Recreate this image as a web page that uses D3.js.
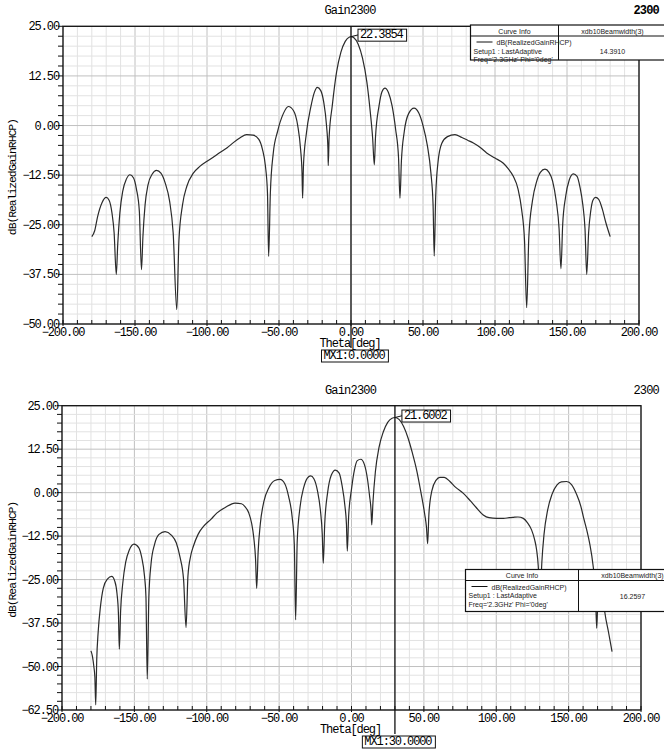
<!DOCTYPE html>
<html>
<head>
<meta charset="utf-8">
<script src="https://cdn.jsdelivr.net/npm/d3@7"></script>
<style>
  html, body { margin: 0; padding: 0; background: #fff; }
  svg text { font-family: "Liberation Mono", "DejaVu Sans Mono", monospace; fill: #000; }
  svg .legend text { font-family: "Liberation Sans", Arial, sans-serif; fill: #222; }
</style>
</head>
<body>
<div id="chart"></div>
<script>
// ── 数据：theta(deg), dB(RealizedGainRHCP) ─────────────────────────────────
const topCurve = [
  [-180, -28.0], [-178, -26.5], [-176, -23.0], [-173, -19.5], [-170, -18.1], [-168, -18.8],
  [-166, -22.0], [-164.5, -27.0], [-163, -37.5], [-162, -30.0], [-160.5, -22.0], [-158.5, -16.5],
  [-156, -13.5], [-153.5, -12.4], [-151, -13.2], [-149, -16.0], [-147, -21.5], [-145.5, -36.3],
  [-144.5, -28.0], [-143, -20.0], [-141, -15.0], [-138, -12.2], [-135, -11.3], [-132, -12.0],
  [-129, -14.5], [-126, -19.0], [-123.5, -27.0], [-121, -46.4], [-119.5, -29.0], [-117, -20.0],
  [-114, -15.3], [-109.5, -12.0], [-105, -10.3], [-100, -9.0], [-95, -7.8], [-91, -6.8],
  [-86, -5.6], [-81.7, -4.3], [-77, -3.1], [-72.5, -2.3], [-68, -2.4], [-64, -3.5],
  [-61.5, -6.0], [-59.5, -10.0], [-58, -17.0], [-57.2, -33.0], [-56, -17.0], [-54, -7.0],
  [-51, -1.5], [-47, 3.0], [-43.5, 4.8], [-40, 3.8], [-37, 0.0], [-35, -6.0],
  [-34, -12.0], [-33.6, -18.3], [-33, -10.0], [-31, -2.0], [-28, 4.5], [-25.5, 8.3],
  [-23.4, 9.6], [-21, 8.8], [-19, 6.0], [-17, 0.0], [-16, -6.0], [-15.8, -10.1],
  [-15.2, -3.0], [-13, 5.0], [-10, 13.5], [-7, 18.5], [-4, 21.2], [-1, 22.3],
  [0, 22.39], [2, 22.1], [5, 20.5], [8, 17.0], [11, 11.0], [13.5, 3.0],
  [15, -3.0], [16.2, -9.9], [17, -3.0], [19.5, 5.0], [21.5, 8.5], [23.6, 9.4],
  [26, 8.3], [28.5, 5.0], [31, -1.0], [33, -8.0], [34, -18.3], [35, -9.0],
  [37, -1.5], [40, 3.0], [43.8, 4.4], [47, 3.2], [50, 0.0], [53, -5.0],
  [55.5, -12.0], [57, -20.0], [57.8, -32.9], [58.8, -18.0], [60.5, -9.0], [63, -4.5],
  [67, -2.8], [72.2, -2.3], [77, -3.0], [81, -3.7], [85, -4.4], [90, -5.6],
  [94.2, -6.9], [100, -8.2], [105.8, -9.5], [109, -10.8], [112.7, -12.8], [116, -16.0],
  [118.5, -21.2], [120.5, -29.0], [122, -45.9], [123.5, -28.0], [126, -19.0], [129, -14.0],
  [131.5, -11.8], [134.7, -11.0], [137.5, -11.8], [140, -14.0], [142.5, -19.0], [144.5, -26.0],
  [145.8, -36.1], [147, -25.0], [149, -18.0], [151.5, -13.8], [154.4, -12.2], [157, -12.8],
  [159, -15.5], [161, -20.0], [162.5, -26.0], [163.7, -37.5], [165, -27.0], [166.5, -21.5],
  [168, -18.8], [169.9, -18.1], [172, -18.6], [174.5, -21.0], [177, -24.5], [180, -28.0]
];

const bottomCurve = [
  [-180, -45.5], [-179, -47.0], [-178, -50.0], [-177.3, -53.0], [-176.7, -61.0], [-176, -48.0],
  [-175, -40.0], [-173.5, -33.0], [-171.5, -27.5], [-168.5, -24.8], [-165.7, -24.1], [-163.5, -25.5],
  [-162, -29.0], [-161, -35.0], [-160.4, -45.0], [-159.5, -34.0], [-158, -26.0], [-156, -20.0],
  [-153.5, -16.5], [-150.3, -14.8], [-147, -15.8], [-145, -18.5], [-143, -24.0], [-142, -30.0],
  [-141.1, -53.6], [-140, -30.0], [-138.5, -20.5], [-136, -14.8], [-133, -12.0], [-128.8, -11.2],
  [-124.5, -12.2], [-121, -14.5], [-118.5, -18.5], [-116, -25.0], [-114.3, -38.8], [-113, -24.0],
  [-111, -18.0], [-109.3, -15.5], [-106, -12.0], [-102.4, -9.8], [-97, -7.6], [-93.1, -5.9],
  [-87, -4.2], [-80.5, -3.0], [-76, -3.2], [-73.6, -4.0], [-71, -5.8], [-69, -8.8],
  [-67.5, -13.0], [-66.3, -19.0], [-65.5, -27.5], [-64.5, -17.0], [-63, -9.0], [-60.5, -2.5],
  [-57, 1.5], [-53, 3.5], [-49.4, 3.8], [-46, 2.5], [-43.5, -1.0], [-41, -7.0],
  [-39.5, -15.0], [-38.6, -36.6], [-37.5, -14.0], [-35.5, -4.0], [-33, 1.5], [-30.5, 4.2],
  [-28.2, 4.8], [-26, 4.0], [-23.5, 0.5], [-21.5, -5.0], [-20.2, -12.0], [-19.5, -20.3],
  [-18.5, -9.0], [-16.5, 0.0], [-14, 5.0], [-11.2, 6.5], [-8.5, 5.6], [-6.5, 2.0],
  [-4.5, -4.0], [-3.5, -9.0], [-2.9, -16.8], [-2, -7.0], [0, 1.0], [2, 6.5],
  [4, 9.2], [6.4, 9.6], [9, 8.0], [11, 4.0], [12.5, -1.0], [13.5, -5.0],
  [14, -9.3], [14.8, -3.0], [16.5, 6.0], [19, 13.0], [22, 17.5], [25, 20.2],
  [28, 21.4], [30, 21.6], [33, 21.0], [36, 19.0], [39, 15.8], [42, 11.5],
  [45, 6.5], [48, 0.0], [50.5, -6.0], [51.8, -10.0], [52.6, -14.7], [53.5, -6.0],
  [55.5, 0.5], [58.5, 3.6], [61, 4.4], [64.1, 4.4], [68, 3.2], [72, 1.5],
  [77.3, -0.2], [82, -2.3], [86, -4.2], [91, -6.4], [95, -7.2], [100.3, -7.4],
  [105, -7.4], [109, -7.2], [111.8, -7.1], [115, -7.0], [118.7, -7.4], [121.5, -8.6],
  [124.4, -10.7], [126.5, -13.5], [127.9, -16.5], [129, -21.0], [130.2, -32.0], [131.5, -20.0],
  [133, -12.0], [135.5, -5.0], [138.5, -0.5], [142, 2.2], [145, 3.1], [148.6, 3.2],
  [152, 2.3], [155.5, -0.5], [158.5, -4.0], [160.5, -7.5], [162.5, -10.7], [164.5, -14.5],
  [167, -21.3], [168.5, -28.0], [169.4, -39.0], [170.3, -30.0], [172, -27.0], [173.5, -29.0],
  [175, -34.4], [177.5, -40.0], [180, -45.7]
];

const xTicks = [-200, -150, -100, -50, 0, 50, 100, 150, 200];
const topYTicks = [25, 12.5, 0, -12.5, -25, -37.5, -50];
const bottomYTicks = [25, 12.5, 0, -12.5, -25, -37.5, -50, -62.5];

const topMarker = { theta: 0, value: 22.3854, label: 'MX1:0.0000' };
const bottomMarker = { theta: 30, value: 21.6002, label: 'MX1:30.0000' };

const legendHeader = ['Curve Info', 'xdb10Beamwidth(3)'];
const legendLines = ['dB(RealizedGainRHCP)', 'Setup1 : LastAdaptive', "Freq='2.3GHz' Phi='0deg'"];
const topBeamwidth = '14.3910';
const bottomBeamwidth = '16.2597';

// ── 画布 ────────────────────────────────────────────────────────────────────
const svg = d3.select('#chart').append('svg')
    .attr('width', 664)
    .attr('height', 750);

const fmt = d3.format('.2f');
const FS = '12px', LS = '-1.1px';   // 宋体风格的窄等宽数字

// 带边框的文字（先放 rect，再按文字 bbox 调整）
function boxedText(g, xPos, yPos, anchor, txt) {
    const r = g.append('rect').attr('fill', '#fff').attr('stroke', '#111');
    const t = g.append('text').attr('x', xPos).attr('y', yPos)
        .attr('text-anchor', anchor).style('font-size', FS)
        .style('letter-spacing', LS).text(txt);
    const b = t.node().getBBox();
    r.attr('x', b.x - 2).attr('y', b.y + 1.5).attr('width', b.width + 5).attr('height', b.height - 2);
}

function drawPanel(p) {
    const x = d3.scaleLinear().domain([-200, 200]).range([p.left, p.right]);
    const y = d3.scaleLinear().domain([p.yTicks[p.yTicks.length - 1], 25]).range([p.bottom, p.top]);
    const g = svg.append('g');

    // 网格
    const grid = g.append('g');
    grid.selectAll('line.v').data(d3.range(-200, 201, 10)).enter().append('line')
        .attr('x1', d => x(d)).attr('x2', d => x(d))
        .attr('y1', p.top).attr('y2', p.bottom)
        .attr('stroke', d => d % 50 === 0 ? '#c0c0c0' : '#e2e2e2')
        .attr('stroke-width', 1);
    const yMinor = d3.range(y.domain()[0], 25.01, 2.5);
    grid.selectAll('line.h').data(yMinor).enter().append('line')
        .attr('x1', p.left).attr('x2', p.right)
        .attr('y1', d => y(d)).attr('y2', d => y(d))
        .attr('stroke', d => Math.abs(d % 12.5) < 0.01 ? '#c0c0c0' : '#e2e2e2')
        .attr('stroke-width', 1);

    // 边框
    g.append('rect')
        .attr('x', p.left).attr('y', p.top)
        .attr('width', p.right - p.left).attr('height', p.bottom - p.top)
        .attr('fill', 'none').attr('stroke', '#111').attr('stroke-width', 1.3);

    // y 轴刻度
    g.append('g').selectAll('line').data(yMinor).enter().append('line')
        .attr('x1', p.left - 5).attr('x2', p.left)
        .attr('y1', d => y(d)).attr('y2', d => y(d))
        .attr('stroke', '#111');
    g.append('g').selectAll('text').data(p.yTicks).enter().append('text')
        .attr('x', p.left - 4).attr('y', d => y(d) + 4)
        .attr('text-anchor', 'end')
        .style('font-size', FS).style('letter-spacing', LS)
        .text(d => fmt(d));

    // x 轴刻度
    g.append('g').selectAll('line').data(d3.range(-200, 201, 10)).enter().append('line')
        .attr('x1', d => x(d)).attr('x2', d => x(d))
        .attr('y1', p.bottom - 4).attr('y2', d => d % 50 === 0 ? p.bottom + 2 : p.bottom)
        .attr('stroke', '#111');
    g.append('g').selectAll('text').data(xTicks).enter().append('text')
        .attr('x', d => x(d)).attr('y', p.bottom + 12)
        .attr('text-anchor', 'middle')
        .style('font-size', FS).style('letter-spacing', LS)
        .text(d => fmt(d));

    // 标题
    g.append('text').attr('x', (p.left + p.right) / 2 - 1).attr('y', p.top - 12)
        .attr('text-anchor', 'middle').style('font-size', FS).style('letter-spacing', '-0.8px')
        .text('Gain2300');
    g.append('text').attr('x', 659).attr('y', p.top - 12)
        .attr('text-anchor', 'end').style('font-size', FS).style('letter-spacing', '-0.8px')
        .style('font-weight', p.boldTag ? 'bold' : 'normal').text('2300');
    g.append('text')
        .attr('transform', `translate(16,${(p.top + p.bottom) / 2 + 2}) rotate(-90)`)
        .attr('text-anchor', 'middle').style('font-size', '11.5px').style('letter-spacing', '-1.1px')
        .text('dB(RealizedGainRHCP)');
    g.append('text').attr('x', (p.left + p.right) / 2 - 1).attr('y', p.bottom + 22.5)
        .attr('text-anchor', 'middle').style('font-size', FS).style('letter-spacing', LS)
        .text('Theta[deg]');

    // 曲线
    const line = d3.line()
        .x(d => x(d[0])).y(d => y(d[1]))
        .curve(d3.curveMonotoneX);
    g.append('path').datum(p.curve)
        .attr('d', line)
        .attr('fill', 'none').attr('stroke', '#2a2a2a').attr('stroke-width', 1.2);

    // 标记线
    const mx = x(p.marker.theta);
    g.append('line')
        .attr('x1', mx).attr('x2', mx)
        .attr('y1', p.top).attr('y2', p.bottom + 24)
        .attr('stroke', '#111').attr('stroke-width', 1.3);
    const my = y(p.marker.value);
    g.append('line')
        .attr('x1', mx).attr('y1', my).attr('x2', mx + 8).attr('y2', my - 2)
        .attr('stroke', '#111');
    boxedText(g, mx + 9, my + 1, 'start', p.marker.value.toFixed(4));
    boxedText(g, mx + p.mxOffset, p.bottom + 34.5, 'middle', p.marker.label);

    // 图例
    const lg = g.append('g').attr('class', 'legend')
        .attr('transform', `translate(${p.legend.x},${p.legend.y})`);
    const lw = 664 - p.legend.x + 40, lh = p.legend.h, hh = 11, div = p.legend.div;
    lg.append('rect').attr('width', lw).attr('height', lh)
        .attr('fill', '#fff').attr('stroke', '#111').attr('stroke-width', 1.2);
    lg.append('line').attr('x1', 0).attr('x2', lw).attr('y1', hh).attr('y2', hh)
        .attr('stroke', '#111');
    lg.append('line').attr('x1', div).attr('x2', div).attr('y1', 0).attr('y2', lh)
        .attr('stroke', '#111');
    lg.append('text').attr('x', div / 2).attr('y', 8.5).attr('text-anchor', 'middle')
        .style('font-size', '7px').text(legendHeader[0]);
    lg.append('text').attr('x', div + 54).attr('y', 8.5).attr('text-anchor', 'middle')
        .style('font-size', '7px').text(legendHeader[1]);
    lg.append('line').attr('x1', 6).attr('x2', 22).attr('y1', hh + 6).attr('y2', hh + 6)
        .attr('stroke', '#111');
    legendLines.forEach((t, i) => {
        lg.append('text').attr('x', i === 0 ? 26 : 3).attr('y', hh + 9 + i * 8.5)
            .style('font-size', '7px').text(t);
    });
    lg.append('text').attr('x', div + 54).attr('y', hh + 18).attr('text-anchor', 'middle')
        .style('font-size', '7px').text(p.legend.value);
}

drawPanel({
    left: 63, right: 639, top: 26.3, bottom: 324,
    yTicks: topYTicks, curve: topCurve, marker: topMarker, mxOffset: 3, boldTag: true,
    legend: { x: 470.5, y: 25, h: 35, div: 88, value: topBeamwidth }
});

drawPanel({
    left: 62, right: 641, top: 405.7, bottom: 710,
    yTicks: bottomYTicks, curve: bottomCurve, marker: bottomMarker, mxOffset: 3, boldTag: false,
    legend: { x: 465.5, y: 569.5, h: 42, div: 113, value: bottomBeamwidth }
});
</script>
</body>
</html>
